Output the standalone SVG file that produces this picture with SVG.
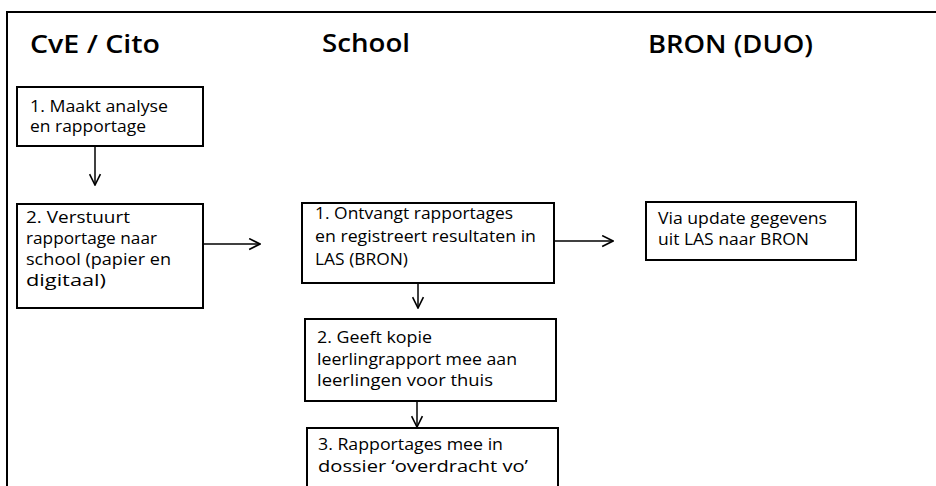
<svg xmlns="http://www.w3.org/2000/svg" width="936" height="486" viewBox="0 0 936 486">
<defs>
<style>
.frame{fill:none;stroke:#000;stroke-width:2}
.box{fill:#fff;stroke:#000;stroke-width:2}
.hdr{font-family:"Open Sans","Liberation Sans",sans-serif;font-size:26px;font-weight:600;fill:#000}
.t{font-family:"Open Sans","Liberation Sans",sans-serif;font-size:15.5px;fill:#000}
.c{fill:none;stroke:#000;stroke-width:1.5}
</style>
<marker id="ah" viewBox="0 0 12 12" refX="11" refY="6" markerWidth="13" markerHeight="13" markerUnits="userSpaceOnUse" orient="auto">
<path d="M1,1 L11,6 L1,11" fill="none" stroke="#000" stroke-width="1.5"/>
</marker>
</defs>
<rect width="936" height="486" fill="#fff"/>
<path class="frame" d="M7,486 V12 H936"/>
<g id="headers">
<text class="hdr" x="30" y="53" textLength="130" lengthAdjust="spacingAndGlyphs">CvE / Cito</text>
<text class="hdr" x="322" y="52" textLength="88" lengthAdjust="spacingAndGlyphs">School</text>
<text class="hdr" x="648" y="53" textLength="165" lengthAdjust="spacingAndGlyphs">BRON (DUO)</text>
</g>
<g id="connectors">
<line class="c" x1="95" y1="147" x2="95" y2="185" marker-end="url(#ah)"/>
<line class="c" x1="203" y1="244" x2="260" y2="244" marker-end="url(#ah)"/>
<line class="c" x1="555" y1="241" x2="613" y2="241" marker-end="url(#ah)"/>
<line class="c" x1="418" y1="284" x2="418" y2="308" marker-end="url(#ah)"/>
<line class="c" x1="417" y1="402" x2="417" y2="427" marker-end="url(#ah)"/>
</g>
<g id="cito1">
<rect class="box" x="17" y="87" width="186" height="59"/>
<text class="t" x="30" y="112" textLength="138" lengthAdjust="spacingAndGlyphs">1. Maakt analyse</text>
<text class="t" x="30" y="132" textLength="116" lengthAdjust="spacingAndGlyphs">en rapportage</text>
</g>
<g id="cito2">
<rect class="box" x="17" y="204" width="186" height="104"/>
<text class="t" x="26" y="223" textLength="104" lengthAdjust="spacingAndGlyphs">2. Verstuurt</text>
<text class="t" x="26" y="244" textLength="131" lengthAdjust="spacingAndGlyphs">rapportage naar</text>
<text class="t" x="26" y="265" textLength="145" lengthAdjust="spacingAndGlyphs">school (papier en</text>
<text class="t" x="26" y="286" textLength="80" lengthAdjust="spacingAndGlyphs">digitaal)</text>
</g>
<g id="school1">
<rect class="box" x="302" y="203" width="252" height="80"/>
<text class="t" x="315" y="219" textLength="198" lengthAdjust="spacingAndGlyphs">1. Ontvangt rapportages</text>
<text class="t" x="315" y="242" textLength="221" lengthAdjust="spacingAndGlyphs">en registreert resultaten in</text>
<text class="t" x="315" y="265" textLength="93" lengthAdjust="spacingAndGlyphs">LAS (BRON)</text>
</g>
<g id="school2">
<rect class="box" x="305" y="319" width="251" height="82"/>
<text class="t" x="317" y="343" textLength="115" lengthAdjust="spacingAndGlyphs">2. Geeft kopie</text>
<text class="t" x="317" y="365" textLength="200" lengthAdjust="spacingAndGlyphs">leerlingrapport mee aan</text>
<text class="t" x="317" y="386" textLength="176" lengthAdjust="spacingAndGlyphs">leerlingen voor thuis</text>
</g>
<g id="school3">
<rect class="box" x="307" y="428" width="251" height="70"/>
<text class="t" x="318" y="450" textLength="185" lengthAdjust="spacingAndGlyphs">3. Rapportages mee in</text>
<text class="t" x="318" y="472" textLength="210" lengthAdjust="spacingAndGlyphs">dossier ‘overdracht vo’</text>
</g>
<g id="bron1">
<rect class="box" x="646" y="202" width="210" height="58"/>
<text class="t" x="658" y="224" textLength="169" lengthAdjust="spacingAndGlyphs">Via update gegevens</text>
<text class="t" x="658" y="245" textLength="151" lengthAdjust="spacingAndGlyphs">uit LAS naar BRON</text>
</g>
</svg>
